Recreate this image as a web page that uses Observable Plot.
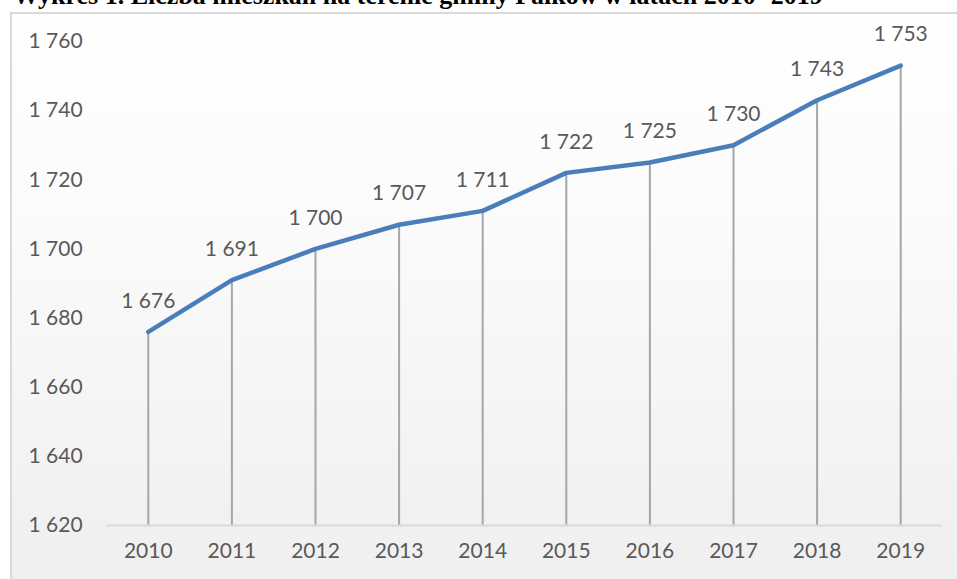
<!DOCTYPE html>
<html>
<head>
<meta charset="utf-8">
<script src="https://cdn.jsdelivr.net/npm/d3@7"></script>
<script src="https://cdn.jsdelivr.net/npm/@observablehq/plot@0.6"></script>
<style>
  html, body { margin: 0; padding: 0; background: #fff; }
  #wrap { position: relative; width: 957px; height: 579px; overflow: hidden; }
  #frame { position: absolute; left: 10px; top: 12px; right: -5px; bottom: -5px;
    border-left: 2px solid #d9d9d9; border-top: 2px solid #d9d9d9;
    background: linear-gradient(to bottom, #ffffff 0%, #fbfbfb 35%, #efefef 100%); }
  #title { position: absolute; left: 13px; top: -17px; font: bold 26px "Liberation Serif", "Times New Roman", serif;
    line-height: 26px; color: #000; white-space: nowrap; }
  #chart { position: absolute; left: 0; top: 0; }
</style>
</head>
<body>
<div id="wrap">
  <div id="frame"></div>
  <div id="title">Wykres 1. Liczba mieszkań na terenie gminy Fałków w latach 2010- 2019</div>
  <div id="chart"></div>
</div>
<script>
const years = [2010, 2011, 2012, 2013, 2014, 2015, 2016, 2017, 2018, 2019];
const values = [1676, 1691, 1700, 1707, 1711, 1722, 1725, 1730, 1743, 1753];
const yTicks = [1620, 1640, 1660, 1680, 1700, 1720, 1740, 1760];

const data = years.map((year, i) => ({year, value: values[i]}));
const fmt = v => d3.format(",")(v).replace(/,/g, " ");
const font = "Lato, 'Open Sans', sans-serif";

const plot = Plot.plot({
  width: 957,
  height: 579,
  marginLeft: 106,
  marginRight: 15,
  marginTop: 41,
  marginBottom: 54,
  style: {background: "transparent", fontFamily: font},
  x: {type: "point", domain: years, padding: 0.5, round: false, axis: null},
  y: {domain: [1620, 1760], axis: null},
  marks: [
    Plot.ruleX(data, {x: "year", y1: 1620, y2: "value", stroke: "#a6a6a6", strokeWidth: 2}),
    Plot.ruleY([1620], {stroke: "#d9d9d9", strokeWidth: 2}),
    Plot.line(data, {x: "year", y: "value", stroke: "#4a7ebb", strokeWidth: 4.5, strokeLinecap: "round", strokeLinejoin: "round"}),
    Plot.text(data, {x: "year", y: "value", text: d => fmt(d.value), dy: -31, fill: "#595959", fontSize: 21, fontFamily: font}),
    Plot.text(yTicks, {y: d => d, text: d => fmt(d), frameAnchor: "left", textAnchor: "start", dx: -78, fill: "#595959", fontSize: 21, fontFamily: font}),
    Plot.text(years, {x: d => d, text: d => String(d), frameAnchor: "bottom", dy: 32, fill: "#595959", fontSize: 21, fontFamily: font})
  ]
});
document.getElementById("chart").appendChild(plot);
</script>
</body>
</html>
